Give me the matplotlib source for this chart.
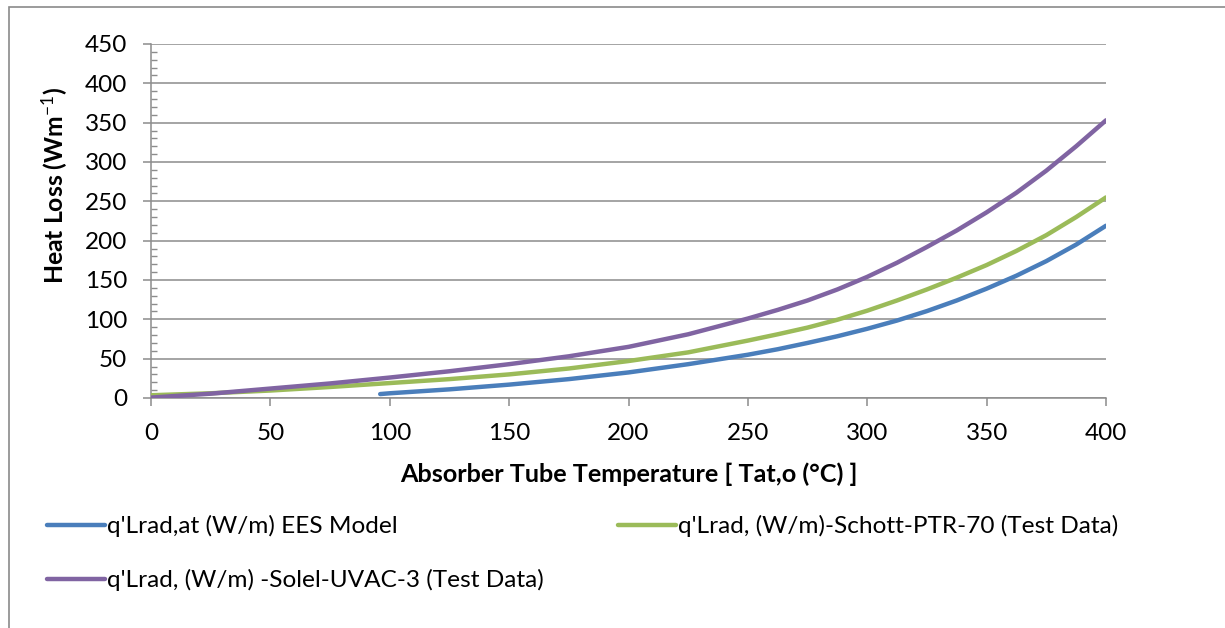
import matplotlib
matplotlib.use("Agg")
import matplotlib.pyplot as plt
from matplotlib.ticker import MultipleLocator
from matplotlib.patches import Rectangle

# Absorber tube temperature (°C)
temp = [0, 25, 50, 75, 100, 125, 150, 175, 200, 225, 250,
        262.5, 275, 287.5, 300, 312.5, 325, 337.5, 350, 362.5, 375, 387.5, 400]

# Radiative heat loss, W/m
solel_uvac3 = [0.5, 5.5, 12, 18.5, 26, 34, 43, 53, 65, 81, 101,
               112, 124, 138, 154, 172, 192, 213, 236, 261, 289, 320, 353]
schott_ptr70 = [3.5, 6, 9.5, 14, 19, 24, 30, 37.5, 47, 58, 73,
                81, 89.5, 99.5, 111, 124, 138, 153, 169, 187, 207, 230, 255]

# EES model only covers the upper temperature range
ees_temp = [96, 100, 125, 150, 175, 200, 225, 250,
            262.5, 275, 287.5, 300, 312.5, 325, 337.5, 350, 362.5, 375, 387.5, 400]
ees_model = [5, 6, 11, 17, 24, 32.5, 43, 55,
             62, 70, 78.5, 88, 98.5, 110.5, 124, 139, 155.5, 174, 195, 219]

labels = [
    "q'Lrad,at (W/m) EES Model",
    "q'Lrad, (W/m)-Schott-PTR-70 (Test Data)",
    "q'Lrad, (W/m) -Solel-UVAC-3 (Test Data)",
]
colors = ["#4a7ebb", "#9bbb59", "#8064a2"]

plt.rcParams["font.family"] = ["Lato", "DejaVu Sans"]
plt.rcParams["mathtext.fontset"] = "custom"
plt.rcParams["mathtext.rm"] = "Lato"
plt.rcParams["mathtext.it"] = "Lato:italic"
plt.rcParams["mathtext.bf"] = "Lato:bold"

fig = plt.figure(figsize=(12.25, 6.28), dpi=100)
ax = fig.add_axes([151 / 1225, 1 - 398 / 628, (1106 - 151) / 1225, (398 - 44) / 628])

grid_c = "#8c8c8c"
lw = 3.2
line_kw = dict(lw=lw, solid_capstyle="round", solid_joinstyle="round")
l_ees, = ax.plot(ees_temp, ees_model, color=colors[0], label=labels[0], zorder=3, **line_kw)
l_sch, = ax.plot(temp, schott_ptr70, color=colors[1], label=labels[1], zorder=3, **line_kw)
l_sol, = ax.plot(temp, solel_uvac3, color=colors[2], label=labels[2], zorder=4, **line_kw)

ax.set_xlim(0, 400)
ax.set_ylim(0, 450)
ax.xaxis.set_major_locator(MultipleLocator(50))
ax.yaxis.set_major_locator(MultipleLocator(50))
ax.yaxis.set_minor_locator(MultipleLocator(10))

ax.grid(axis="y", which="major", color=grid_c, lw=1.1, zorder=0)
ax.set_axisbelow(True)
for s in ("top", "right"):
    ax.spines[s].set_visible(False)
for s in ("left", "bottom"):
    ax.spines[s].set_color(grid_c)
    ax.spines[s].set_linewidth(1.1)

ax.tick_params(axis="both", which="major", direction="out", length=6, width=1.1,
               color=grid_c, labelsize=17.5, labelcolor="black")
ax.tick_params(axis="y", which="major", pad=11)
ax.tick_params(axis="x", which="major", pad=12)
ax.tick_params(axis="y", which="minor", direction="in", length=4.5, width=1.0, color=grid_c)

ax.set_xlabel("Absorber Tube Temperature [ Tat,o (°C) ]", fontsize=18.2,
              fontweight="bold", labelpad=13)
ax.set_ylabel("Heat Loss (Wm$^{-1}$)", fontsize=17.8, fontweight="bold")
ax.yaxis.set_label_coords(-0.085, 0.60)

# Legend: two columns, row-major order
fs_leg = 17.6
fig.legend([l_ees, l_sol, l_sch], [labels[0], labels[2], labels[1]],
           ncol=2, loc="upper left", bbox_to_anchor=(47 / 1225, 1 - 515 / 628),
           frameon=False, fontsize=fs_leg, handlelength=2.38, handletextpad=0.08,
           columnspacing=3.03, labelspacing=1.32, borderpad=0, borderaxespad=0)

# Outer chart border
fig.add_artist(Rectangle((9 / 1225, -0.1), 1.2, 1 - 7 / 628 + 0.1,
                         transform=fig.transFigure, fill=False,
                         edgecolor="#8a8a8a", lw=1.2))

fig.savefig("out.png", dpi=100)
